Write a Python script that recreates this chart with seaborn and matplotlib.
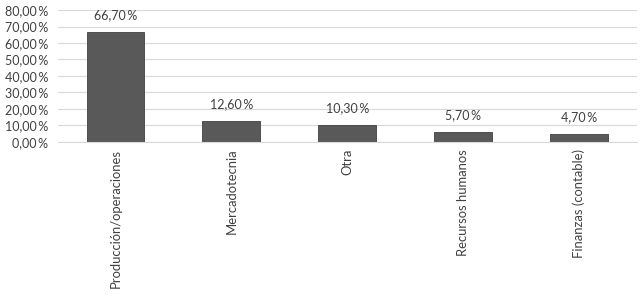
import matplotlib
matplotlib.use("Agg")
import matplotlib.pyplot as plt
import seaborn as sns
import pandas as pd

categories = ["Producción/operaciones", "Mercadotecnia", "Otra",
              "Recursos humanos", "Finanzas (contable)"]
values = [66.7, 12.6, 10.3, 5.7, 4.7]
y_ticks = [0, 10, 20, 30, 40, 50, 60, 70, 80]

sns.set_style("white")
plt.rcParams['font.family'] = ['Lato', 'DejaVu Sans']


def pct(v):
    return f"{v:.2f}".replace(".", ",") + "\u2009%"


df = pd.DataFrame({"area": categories, "pct": values})

fig = plt.figure(figsize=(6.4, 2.95), dpi=100)
ax = fig.add_axes([0.09, 0.519, 0.905, 0.447])

sns.barplot(data=df, x="area", y="pct", color="#595959", width=0.5,
            edgecolor="#404040", linewidth=0.6, saturation=1, ax=ax)

ax.set_ylim(0, 80)
ax.set_yticks(y_ticks)
ax.set_yticklabels([pct(t) for t in y_ticks], fontsize=9, color="#404040")
ax.yaxis.grid(True, color="#d9d9d9", linewidth=0.8)
ax.set_axisbelow(True)
ax.tick_params(axis="y", length=0, pad=7)
ax.tick_params(axis="x", length=0, pad=5)
ax.set_xticks(range(len(categories)))
ax.set_xticklabels(categories, rotation=90, fontsize=9.4, color="#404040")
ax.set_xlabel("")
ax.set_ylabel("")
for s in ["top", "right", "left"]:
    ax.spines[s].set_visible(False)
ax.spines["bottom"].set_color("#d9d9d9")

for i, v in enumerate(values):
    ax.annotate(pct(v), (i, v), xytext=(0, 8), textcoords="offset points",
                ha="center", va="bottom", fontsize=9, color="#404040")

fig.savefig("out.png", dpi=100)
